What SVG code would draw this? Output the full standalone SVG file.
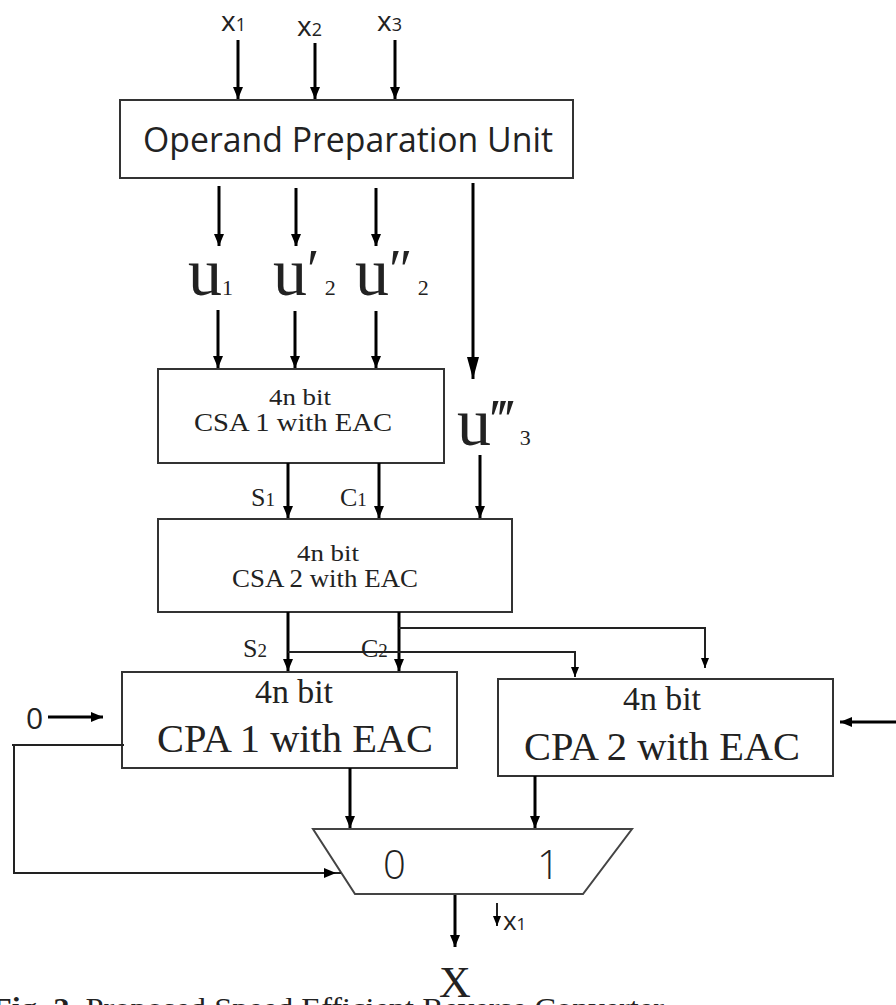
<svg xmlns="http://www.w3.org/2000/svg" width="896" height="1005" viewBox="0 0 896 1005">
<style>
.box{fill:#fff;stroke:#333;stroke-width:2}
.ln{fill:none;stroke:#000;stroke-width:3}
.thin{fill:none;stroke:#222;stroke-width:2}
.sans{font-family:"Open Sans","Noto Sans","Liberation Sans",sans-serif;fill:#222}
.serif{font-family:"Liberation Serif","DejaVu Serif",serif;fill:#222}
</style>
<defs>
<marker id="ah" markerUnits="userSpaceOnUse" markerWidth="12" markerHeight="12" refX="12" refY="6" orient="auto"><path d="M0,1 L12,6 L0,11 z" fill="#000"/></marker>
<marker id="ahb" markerUnits="userSpaceOnUse" markerWidth="22" markerHeight="14" refX="22" refY="7" orient="auto"><path d="M0,1 L22,7 L0,13 z" fill="#000"/></marker>
<marker id="ahs" markerUnits="userSpaceOnUse" markerWidth="10" markerHeight="10" refX="10" refY="5" orient="auto"><path d="M0,1 L10,5 L0,9 z" fill="#000"/></marker>
</defs>

<g id="inputs">
<text class="sans" x="221" y="31" font-size="28">x<tspan font-size="18">1</tspan></text>
<text class="sans" x="297" y="36" font-size="28">x<tspan font-size="18">2</tspan></text>
<text class="sans" x="377" y="31" font-size="28">x<tspan font-size="18">3</tspan></text>
</g>

<g id="opu">
<rect class="box" x="120" y="100" width="453" height="78"/>
<text class="sans" x="143" y="152" font-size="34" textLength="410" lengthAdjust="spacingAndGlyphs">Operand Preparation Unit</text>
</g>

<g id="u-labels">
<text class="serif" x="188" y="295" font-size="68">u<tspan font-size="22">1</tspan></text>
<text class="serif" x="273" y="295" font-size="68">u<tspan font-size="56" dy="-6">′</tspan><tspan font-size="22" dy="6"> 2</tspan></text>
<text class="serif" x="355" y="295" font-size="68">u<tspan font-size="56" dy="-6">″</tspan><tspan font-size="22" dy="6"> 2</tspan></text>
<text class="serif" x="457" y="445" font-size="68">u<tspan font-size="56" dy="-6">‴</tspan><tspan font-size="22" dy="6"> 3</tspan></text>
</g>

<g id="csa1">
<rect class="box" x="158" y="369" width="286" height="94"/>
<text class="serif" x="300" y="405" font-size="23" text-anchor="middle" textLength="62" lengthAdjust="spacingAndGlyphs">4n bit</text>
<text class="serif" x="293" y="431" font-size="25" text-anchor="middle" textLength="198" lengthAdjust="spacingAndGlyphs">CSA 1 with EAC</text>
</g>

<g id="csa2">
<rect class="box" x="158" y="519" width="354" height="93"/>
<text class="serif" x="328" y="561" font-size="23" text-anchor="middle" textLength="62" lengthAdjust="spacingAndGlyphs">4n bit</text>
<text class="serif" x="325" y="587" font-size="25" text-anchor="middle" textLength="186" lengthAdjust="spacingAndGlyphs">CSA 2 with EAC</text>
</g>

<g id="cpa1">
<rect class="box" x="122" y="672" width="335" height="96"/>
<text class="serif" x="294" y="703" font-size="33" text-anchor="middle" textLength="78" lengthAdjust="spacingAndGlyphs">4n bit</text>
<text class="serif" x="295" y="752" font-size="40" text-anchor="middle" textLength="276" lengthAdjust="spacingAndGlyphs">CPA 1 with EAC</text>
</g>

<g id="cpa2">
<rect class="box" x="498" y="679" width="335" height="97"/>
<text class="serif" x="662" y="710" font-size="33" text-anchor="middle" textLength="78" lengthAdjust="spacingAndGlyphs">4n bit</text>
<text class="serif" x="662" y="760" font-size="40" text-anchor="middle" textLength="276" lengthAdjust="spacingAndGlyphs">CPA 2 with EAC</text>
</g>

<g id="mux">
<path d="M313,829 L632,829 L583,894 L355,894 Z" fill="#fff" stroke="#444" stroke-width="2"/>
<text class="sans" x="383" y="879" font-size="40" font-weight="300">0</text>
<text class="sans" x="537" y="879" font-size="40" font-weight="300">1</text>
</g>

<g id="signal-labels">
<text class="serif" x="251" y="506" font-size="26">S<tspan font-size="19">1</tspan></text>
<text class="serif" x="340" y="506" font-size="26">C<tspan font-size="19">1</tspan></text>
<text class="serif" x="243" y="657" font-size="26">S<tspan font-size="19">2</tspan></text>
<text class="serif" x="361" y="657" font-size="26">C<tspan font-size="19">2</tspan></text>
<text class="sans" x="26" y="729" font-size="30">0</text>
<text class="sans" x="503" y="930" font-size="26">x<tspan font-size="17">1</tspan></text>
<text class="serif" x="455" y="997" font-size="44" text-anchor="middle">X</text>
</g>

<g id="connectors">
<line class="ln" x1="238" y1="40" x2="238" y2="99" marker-end="url(#ah)"/>
<line class="ln" x1="315" y1="43" x2="315" y2="99" marker-end="url(#ah)"/>
<line class="ln" x1="395" y1="40" x2="395" y2="99" marker-end="url(#ah)"/>
<line class="ln" x1="219" y1="186" x2="219" y2="246" marker-end="url(#ah)"/>
<line class="ln" x1="296" y1="188" x2="296" y2="246" marker-end="url(#ah)"/>
<line class="ln" x1="376" y1="188" x2="376" y2="246" marker-end="url(#ah)"/>
<line class="ln" x1="473" y1="183" x2="473" y2="379" marker-end="url(#ahb)"/>
<line class="ln" x1="218" y1="310" x2="218" y2="368" marker-end="url(#ah)"/>
<line class="ln" x1="295" y1="311" x2="295" y2="368" marker-end="url(#ah)"/>
<line class="ln" x1="376" y1="311" x2="376" y2="368" marker-end="url(#ah)"/>
<line class="ln" x1="480" y1="455" x2="480" y2="518" marker-end="url(#ah)"/>
<line class="ln" x1="288" y1="463" x2="288" y2="518" marker-end="url(#ah)"/>
<line class="ln" x1="379" y1="463" x2="379" y2="518" marker-end="url(#ah)"/>
<line class="ln" x1="288" y1="612" x2="288" y2="671" marker-end="url(#ah)"/>
<line class="ln" x1="399" y1="612" x2="399" y2="671" marker-end="url(#ah)"/>
<polyline class="thin" points="399,628 705,628 705,668" marker-end="url(#ahs)"/>
<polyline class="thin" points="288,652 575,652 575,677" marker-end="url(#ahs)"/>
<line class="ln" x1="48" y1="717" x2="103" y2="717" marker-end="url(#ah)"/>
<line class="ln" x1="896" y1="722" x2="840" y2="722" marker-end="url(#ah)"/>
<line class="thin" x1="12" y1="745" x2="124" y2="745"/>
<polyline class="thin" points="14,745 14,873 336,873" marker-end="url(#ah)"/>
<line class="thin" x1="336" y1="873" x2="341" y2="873"/>
<line class="ln" x1="350" y1="768" x2="350" y2="828" marker-end="url(#ah)"/>
<line class="ln" x1="535" y1="776" x2="535" y2="828" marker-end="url(#ah)"/>
<line class="ln" x1="455" y1="895" x2="455" y2="947" marker-end="url(#ah)"/>
<line class="thin" x1="497" y1="903" x2="497" y2="926" marker-end="url(#ahs)"/>
</g>

<g id="caption">
<text class="serif" x="-8" y="1018" font-size="30" textLength="672" lengthAdjust="spacingAndGlyphs"><tspan font-weight="bold">Fig. 2.</tspan> Proposed Speed Efficient Reverse Converter</text>
</g>
</svg>
